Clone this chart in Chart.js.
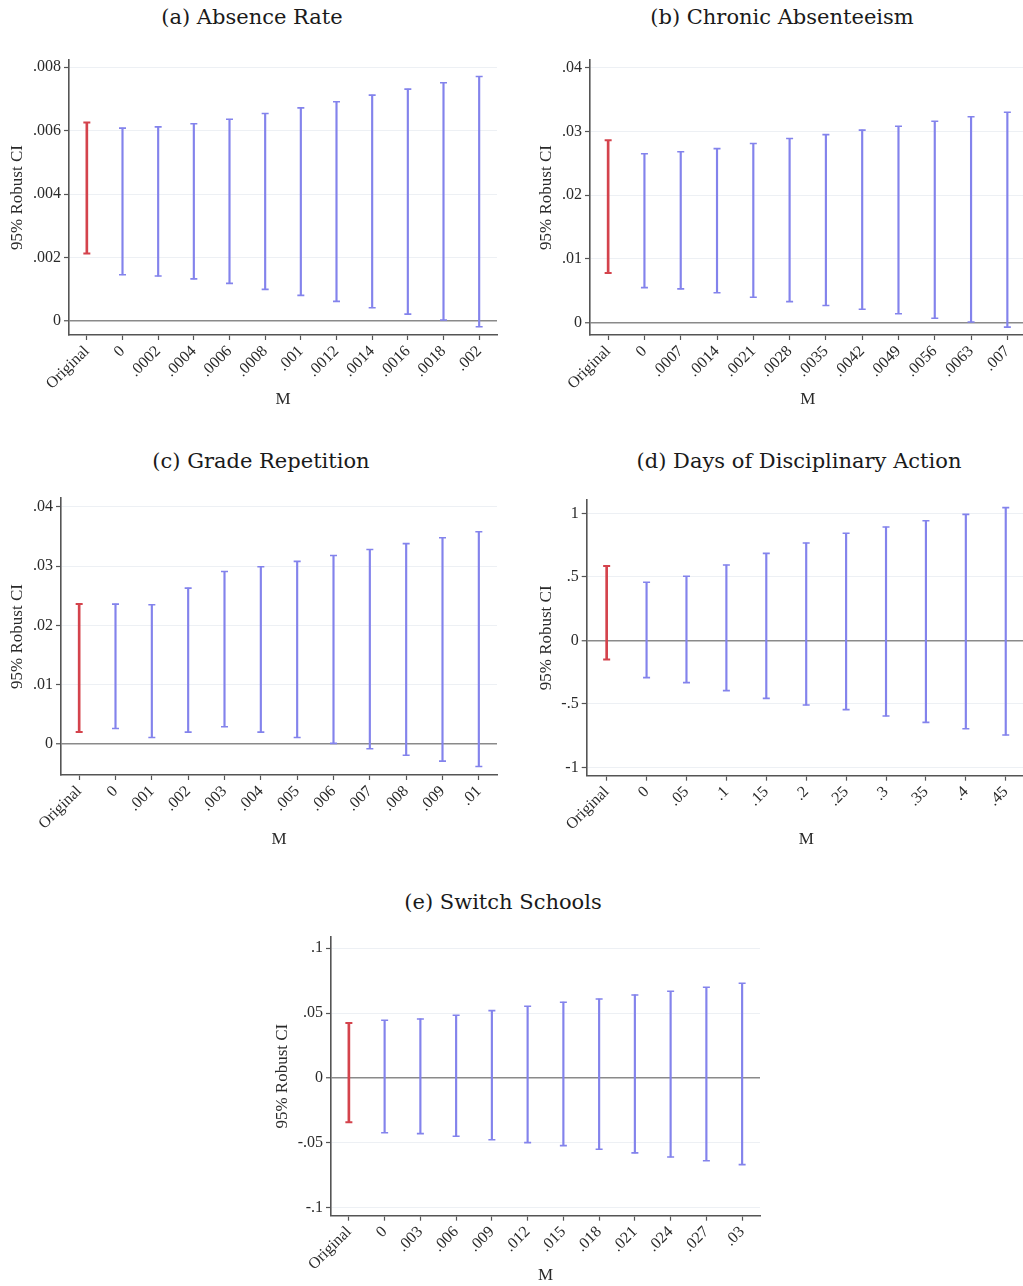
<!DOCTYPE html>
<html>
<head>
<meta charset="utf-8">
<script src="https://cdn.jsdelivr.net/npm/chart.js@4/dist/chart.umd.min.js"></script>
<style>
  html, body { margin: 0; padding: 0; background: #fff; width: 1023px; height: 1286px; overflow: hidden; position: relative; }
  canvas { position: absolute; }
  .ptitle { position: absolute; transform: translate(-50%, -50%); font-family: "DejaVu Serif", serif; font-size: 21px; color: #1a1a1a; white-space: nowrap; }
</style>
</head>
<body>
<div class="ptitle" style="left:252px;top:17px">(a) Absence Rate</div>
<div class="ptitle" style="left:782px;top:17px">(b) Chronic Absenteeism</div>
<div class="ptitle" style="left:261px;top:461px">(c) Grade Repetition</div>
<div class="ptitle" style="left:799px;top:461px">(d) Days of Disciplinary Action</div>
<div class="ptitle" style="left:503px;top:902px">(e) Switch Schools</div>
<canvas id="ca"></canvas>
<canvas id="cb"></canvas>
<canvas id="cc"></canvas>
<canvas id="cd"></canvas>
<canvas id="ce"></canvas>
<script>
// ---------- DATA ----------
// (a) Absence Rate
const aLabels = ['Original','0','.0002','.0004','.0006','.0008','.001','.0012','.0014','.0016','.0018','.002'];
const aLower  = [0.00212,0.00145,0.00141,0.00132,0.00118,0.00099,0.00080,0.00061,0.00041,0.00021,0.00000,-0.00019];
const aUpper  = [0.00626,0.00608,0.00612,0.00622,0.00636,0.00654,0.00672,0.00691,0.00712,0.00731,0.00751,0.00771];
const aYTicks = [0,0.002,0.004,0.006,0.008];
const aYTickLabels = ['0','.002','.004','.006','.008'];

// (b) Chronic Absenteeism
const bLabels = ['Original','0','.0007','.0014','.0021','.0028','.0035','.0042','.0049','.0056','.0063','.007'];
const bLower  = [0.0078,0.0055,0.0053,0.0047,0.0040,0.0033,0.0027,0.0021,0.0014,0.0007,0.0000,-0.0007];
const bUpper  = [0.0286,0.0265,0.0268,0.0273,0.0281,0.0289,0.0295,0.0302,0.0308,0.0316,0.0323,0.0330];
const bYTicks = [0,0.01,0.02,0.03,0.04];
const bYTickLabels = ['0','.01','.02','.03','.04'];

// (c) Grade Repetition
const cLabels = ['Original','0','.001','.002','.003','.004','.005','.006','.007','.008','.009','.01'];
const cLower  = [0.0020,0.0026,0.0011,0.0020,0.0029,0.0020,0.0011,0.0001,-0.0008,-0.0019,-0.0029,-0.0038];
const cUpper  = [0.0236,0.0236,0.0235,0.0263,0.0291,0.0299,0.0308,0.0318,0.0328,0.0338,0.0348,0.0358];
const cYTicks = [0,0.01,0.02,0.03,0.04];
const cYTickLabels = ['0','.01','.02','.03','.04'];

// (d) Days of Disciplinary Action
const dLabels = ['Original','0','.05','.1','.15','.2','.25','.3','.35','.4','.45'];
const dLower  = [-0.150,-0.294,-0.333,-0.396,-0.457,-0.509,-0.546,-0.596,-0.646,-0.696,-0.745];
const dUpper  = [0.585,0.457,0.504,0.593,0.685,0.766,0.843,0.892,0.942,0.992,1.045];
const dYTicks = [-1,-0.5,0,0.5,1];
const dYTickLabels = ['-1','-.5','0','.5','1'];

// (e) Switch Schools
const eLabels = ['Original','0','.003','.006','.009','.012','.015','.018','.021','.024','.027','.03'];
const eLower  = [-0.0342,-0.0422,-0.0429,-0.0450,-0.0476,-0.0499,-0.0522,-0.0550,-0.0578,-0.0609,-0.0638,-0.0668];
const eUpper  = [0.0424,0.0445,0.0455,0.0483,0.0519,0.0553,0.0584,0.0609,0.0640,0.0668,0.0699,0.0730];
const eYTicks = [-0.1,-0.05,0,0.05,0.1];
const eYTickLabels = ['-.1','-.05','0','.05','.1'];

// ---------- STYLE / LAYOUT ----------
const RED = '#d4434c';
const BLUE = '#8383ec';
const AXIS = '#555';
const GRID = '#edf0f4';
const ZERO = '#8a8a8a';
const TXT = '#2a2a2a';
const SERIF = '"Liberation Serif", "Times New Roman", serif';

const capPlugin = {
  id: 'caps',
  afterDatasetsDraw(chart) {
    const ctx = chart.ctx;
    chart.data.datasets.forEach((ds, di) => {
      const meta = chart.getDatasetMeta(di);
      meta.data.forEach((el, i) => {
        if (ds.data[i] == null) return;
        const p = el.getProps(['x', 'y', 'base'], true);
        ctx.save();
        ctx.strokeStyle = ds.borderColor;
        ctx.lineWidth = ds.capWidth;
        ctx.beginPath();
        ctx.moveTo(p.x - 3.5, p.y); ctx.lineTo(p.x + 3.5, p.y);
        ctx.moveTo(p.x - 3.5, p.base); ctx.lineTo(p.x + 3.5, p.base);
        ctx.stroke();
        ctx.restore();
      });
    });
  }
};

function makeChart(id, box, area, labels, lower, upper, yTicks, yTickLabels, yMin, yMax, xTitlePad, yTitlePad) {
  const cv = document.getElementById(id);
  cv.width = box.w; cv.height = box.h;
  cv.style.left = box.left + 'px'; cv.style.top = box.top + 'px';
  cv.style.width = box.w + 'px'; cv.style.height = box.h + 'px';
  const origData = labels.map((l, i) => i === 0 ? [lower[i], upper[i]] : null);
  const mData = labels.map((l, i) => i === 0 ? null : [lower[i], upper[i]]);
  new Chart(cv, {
    type: 'bar',
    data: {
      labels: labels,
      datasets: [
        { data: origData, backgroundColor: RED, borderColor: RED, barThickness: 2, grouped: false, capWidth: 2, borderSkipped: false },
        { data: mData, backgroundColor: BLUE, borderColor: BLUE, barThickness: 1.5, grouped: false, capWidth: 1.6, borderSkipped: false }
      ]
    },
    options: {
      responsive: false,
      animation: false,
      devicePixelRatio: 1,
      layout: { padding: { left: 0, top: area.t - box.top, right: box.left + box.w - area.r, bottom: 0 } },
      plugins: { legend: { display: false }, tooltip: { enabled: false } },
      scales: {
        x: {
          offset: true,
          grid: { offset: false, drawOnChartArea: false, drawTicks: true, tickLength: 5, tickColor: AXIS, tickWidth: 1.2 },
          border: { color: AXIS, width: 1.6 },
          ticks: { autoSkip: false, minRotation: 45, maxRotation: 45, padding: 2, color: TXT, font: { family: SERIF, size: 16 } },
          title: { display: true, text: 'M', color: TXT, font: { family: SERIF, size: 17 }, padding: { top: xTitlePad, bottom: 0 } },
          afterFit: s => { s.height = box.top + box.h - area.b; }
        },
        y: {
          min: yMin, max: yMax,
          afterBuildTicks: s => { s.ticks = yTicks.map(v => ({ value: v })); },
          grid: {
            color: c => (c.tick && c.tick.value === 0) ? ZERO : GRID,
            lineWidth: c => (c.tick && c.tick.value === 0) ? 1.5 : 1,
            tickColor: AXIS, tickLength: 5, tickWidth: 1.2
          },
          border: { color: AXIS, width: 1.6 },
          ticks: {
            padding: 3, color: TXT, font: { family: SERIF, size: 16 },
            callback: (v, i) => yTickLabels[i]
          },
          title: { display: true, text: '95% Robust CI', color: TXT, font: { family: SERIF, size: 17 }, padding: { top: yTitlePad, bottom: 0 } },
          afterFit: s => { s.width = area.l - box.left; }
        }
      }
    },
    plugins: [capPlugin]
  });
}

makeChart('ca', { left: 0, top: 30, w: 510, h: 380 }, { l: 69, t: 60, r: 497, b: 335 },
  aLabels, aLower, aUpper, aYTicks, aYTickLabels, -0.00045, 0.00823, 6.8, 7.8);
makeChart('cb', { left: 510, top: 30, w: 520, h: 380 }, { l: 590, t: 60, r: 1025.5, b: 335 },
  bLabels, bLower, bUpper, bYTicks, bYTickLabels, -0.00193, 0.0412, 6.8, 26.4);
makeChart('cc', { left: 0, top: 470, w: 510, h: 380 }, { l: 61, t: 498, r: 497, b: 775 },
  cLabels, cLower, cUpper, cYTicks, cYTickLabels, -0.00524, 0.0415, 4.8, 7.8);
makeChart('cd', { left: 510, top: 470, w: 520, h: 380 }, { l: 586.7, t: 500, r: 1025.7, b: 775.7 },
  dLabels, dLower, dUpper, dYTicks, dYTickLabels, -1.066, 1.105, 4.8, 26.4);
makeChart('ce', { left: 260, top: 910, w: 520, h: 376 }, { l: 331, t: 936.7, r: 760, b: 1215.7 },
  eLabels, eLower, eUpper, eYTicks, eYTickLabels, -0.1062, 0.1089, 0, 12.8);
</script>
</body>
</html>
